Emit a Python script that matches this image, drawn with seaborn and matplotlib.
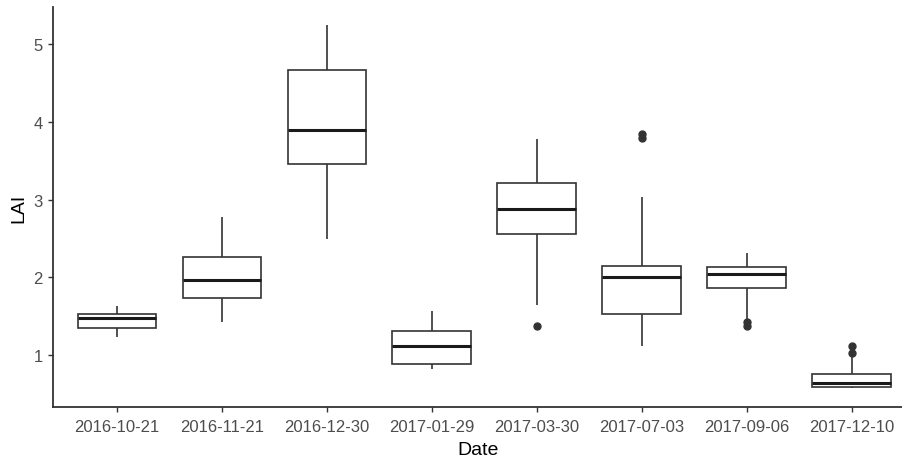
import pandas as pd
import matplotlib
matplotlib.use("Agg")
import matplotlib.pyplot as plt
import seaborn as sns

# Box statistics (LAI per sampling date)
dates = ["2016-10-21", "2016-11-21", "2016-12-30", "2017-01-29",
         "2017-03-30", "2017-07-03", "2017-09-06", "2017-12-10"]
whis_low = [1.23, 1.42, 2.49, 0.82, 1.64, 1.12, 1.46, 0.575]
q1 = [1.35, 1.73, 3.46, 0.88, 2.56, 1.53, 1.86, 0.59]
median = [1.47, 1.97, 3.90, 1.11, 2.88, 2.00, 2.04, 0.635]
q3 = [1.53, 2.26, 4.67, 1.31, 3.21, 2.14, 2.13, 0.76]
whis_high = [1.63, 2.77, 5.25, 1.56, 3.78, 3.04, 2.31, 0.99]
low_outliers = [[], [], [], [], [1.37], [], [1.37, 1.43], []]
high_outliers = [[], [], [], [], [], [3.79, 3.84], [], [1.03, 1.11]]

# build a 13-value sample per date that reproduces those quartiles/whiskers
rows = []
for i, d in enumerate(dates):
    low = low_outliers[i] + [whis_low[i]] * (3 - len(low_outliers[i]))
    high = [whis_high[i]] * (3 - len(high_outliers[i])) + high_outliers[i]
    vals = low + [q1[i]] * 3 + [median[i]] + [q3[i]] * 3 + high
    rows += [(d, v) for v in vals]
df = pd.DataFrame(rows, columns=["Date", "LAI"])

sns.set_style("ticks")
plt.rcParams["font.family"] = ["Liberation Sans", "DejaVu Sans"]

fig = plt.figure(figsize=(9.03, 4.6), dpi=100)
ax = fig.add_axes([53 / 903, 52 / 460, 850 / 903, 400 / 460])

line_col = "#333333"
sns.boxplot(data=df, x="Date", y="LAI", order=dates, ax=ax,
            color="white", linecolor=line_col, linewidth=1.2, width=0.75,
            showcaps=False, fliersize=5,
            medianprops=dict(linewidth=2.2, color="#1a1a1a"),
            flierprops=dict(marker="o", markerfacecolor=line_col,
                            markeredgecolor=line_col))

ax.set_xlim(-0.61, 7.49)
ax.set_ylim(0.33, 5.48)
ax.set_yticks([1, 2, 3, 4, 5])
sns.despine(ax=ax)
for side in ["left", "bottom"]:
    ax.spines[side].set_linewidth(1.3)
    ax.spines[side].set_color("#333333")
ax.tick_params(axis="both", length=3.5, width=1.0, color="#333333",
               labelsize=12, labelcolor="#4d4d4d")
ax.tick_params(axis="x", pad=5)
ax.tick_params(axis="y", pad=4)
ax.set_xlabel("Date", fontsize=14, color="black", labelpad=5)
ax.set_ylabel("LAI", fontsize=14, color="black", labelpad=4)

fig.savefig("out.png", dpi=100)
